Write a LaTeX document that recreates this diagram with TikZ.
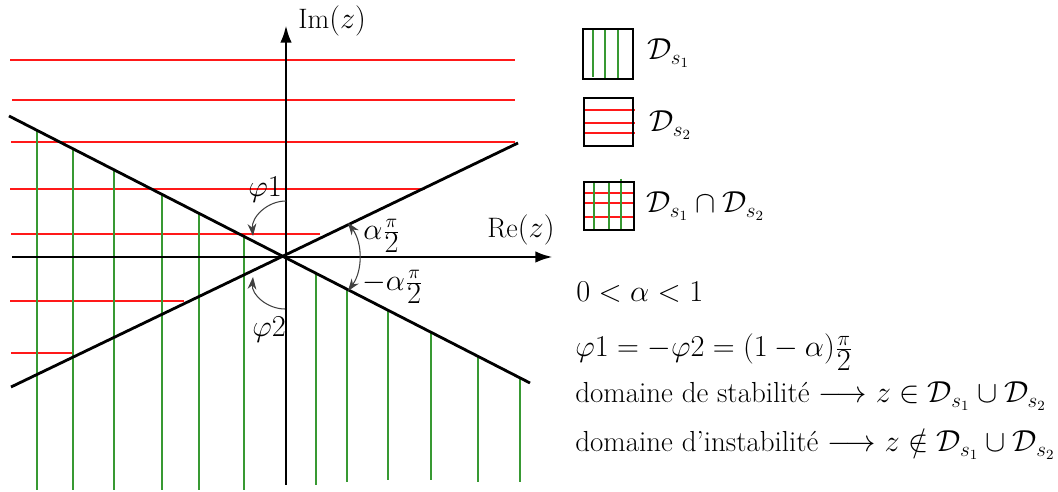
\documentclass[tikz,border=0pt]{standalone}
\usepackage{fontspec}
\usetikzlibrary{arrows.meta}
\definecolor{domainred}{rgb}{1.0,0.1,0.1}
\definecolor{domaingreen}{rgb}{0.22,0.6,0.2}
\newcommand{\halfpi}{\frac{\pi}{\textstyle 2}}
\begin{document}
\begin{tikzpicture}[x=0.02cm,y=-0.02cm,
  font=\fontsize{16}{19}\selectfont,
  axisline/.style={black,line width=1.7pt,-{Latex[length=10pt,width=6.5pt]}},
  edgeline/.style={black,line width=1.6pt},
  redhatch/.style={domainred,line width=0.9pt},
  greenhatch/.style={domaingreen,line width=0.9pt},
  anglearc/.style={black!75,line width=0.6pt,-{Stealth[length=7pt,width=5pt]}},
  legendtext/.style={anchor=base west,inner sep=0pt,font=\fontsize{16.5}{20}\selectfont},
  legendbox/.style={black,line width=0.9pt}]
\useasboundingbox (0,0) rectangle (1058,492);
% red lines (D_s2)
\draw[redhatch] (10,60) -- (515,60);
\draw[redhatch] (12,100) -- (515,100);
\draw[redhatch] (11,142) -- (515,142);
\draw[redhatch] (10,189) -- (425,189);
\draw[redhatch] (11,234) -- (320,234);
\draw[redhatch] (10,301) -- (184,301);
\draw[redhatch] (11,353) -- (73,353);
% green lines (D_s1)
\draw[greenhatch] (37,130.4) -- (37,490);
\draw[greenhatch] (73,148.8) -- (73,490);
\draw[greenhatch] (114,169.8) -- (114,490);
\draw[greenhatch] (162,194.4) -- (162,490);
\draw[greenhatch] (199,213.4) -- (199,490);
\draw[greenhatch] (244,236.4) -- (244,490);
\draw[greenhatch] (316,273.3) -- (316,485);
\draw[greenhatch] (347,289.2) -- (347,482);
\draw[greenhatch] (388,310.2) -- (388,480);
\draw[greenhatch] (431,332.3) -- (431,480);
\draw[greenhatch] (478,356.4) -- (478,482);
\draw[greenhatch] (520,377.9) -- (520,482);
% borders of the domains
\coordinate (o) at (286,257);
\draw[edgeline] (9,116) -- (530,383);
\draw[edgeline] (11,387) -- (518,143);
% axes
\draw[axisline] (12,257) -- (553,257);
\draw[axisline] (286,485) -- (286,25);
\node[anchor=base west,inner sep=0pt] (re) at (487,238) {Re$(z)$};
\node[anchor=base west,inner sep=0pt] (im) at (298,29) {Im$(z)$};
% angles
\coordinate (phi1a) at (286,201);
\coordinate (phi1b) at (253,236);
\coordinate (phi2a) at (285,309);
\coordinate (phi2b) at (253,277);
\draw[anglearc] (phi1a) to[out=180,in=95] (phi1b);
\draw[anglearc] (phi2a) to[out=180,in=-95] (phi2b);
\draw[anglearc,{Stealth[length=7pt,width=5pt]}-{Stealth[length=7pt,width=5pt]}] (348,291) arc[start angle=36,end angle=-36,radius=58];
\node[anchor=base west,inner sep=0pt] (phione) at (248,197) {$\varphi1$};
\node[anchor=base west,inner sep=0pt] (phitwo) at (252,337) {$\varphi2$};
\node[anchor=west,inner sep=0pt] (apos) at (363,236) {$\alpha\halfpi$};
\node[anchor=west,inner sep=0pt] (aneg) at (362,287) {$-\alpha\halfpi$};
% legend
\draw[greenhatch] (593,29) -- (593,77);
\draw[greenhatch] (605,29) -- (605,79);
\draw[greenhatch] (618,29) -- (618,79);
\draw[legendbox] (583,29) rectangle (633,79);
\node[legendtext] (ds1) at (647,60) {$\mathcal{D}_{s_1}$};
\draw[redhatch] (584,110) -- (635,110);
\draw[redhatch] (584,123) -- (635,123);
\draw[redhatch] (584,133) -- (635,133);
\draw[legendbox] (584,98) rectangle (633,146);
\node[legendtext] (ds2) at (649,132) {$\mathcal{D}_{s_2}$};
\draw[redhatch] (584,193) -- (634,193);
\draw[redhatch] (584,203) -- (634,203);
\draw[redhatch] (584,217) -- (634,217);
\draw[greenhatch] (594,182) -- (594,230);
\draw[greenhatch] (609,182) -- (609,230);
\draw[greenhatch] (621,179) -- (621,230);
\draw[legendbox] (584,182) rectangle (634,230);
\node[legendtext] (dinter) at (646,213) {$\mathcal{D}_{s_1}\cap\mathcal{D}_{s_2}$};
\node[legendtext] (alpha) at (576,302) {$0<\alpha<1$};
\node[legendtext] (phirel) at (575,357) {$\varphi1=-\varphi2=(1-\alpha)\halfpi$};
\node[legendtext] (stab) at (575,403) {domaine de stabilité $\longrightarrow z\in\mathcal{D}_{s_1}\cup\mathcal{D}_{s_2}$};
\node[legendtext] (instab) at (575,452) {domaine d'instabilité $\longrightarrow z\notin\mathcal{D}_{s_1}\cup\mathcal{D}_{s_2}$};
\end{tikzpicture}
\end{document}
